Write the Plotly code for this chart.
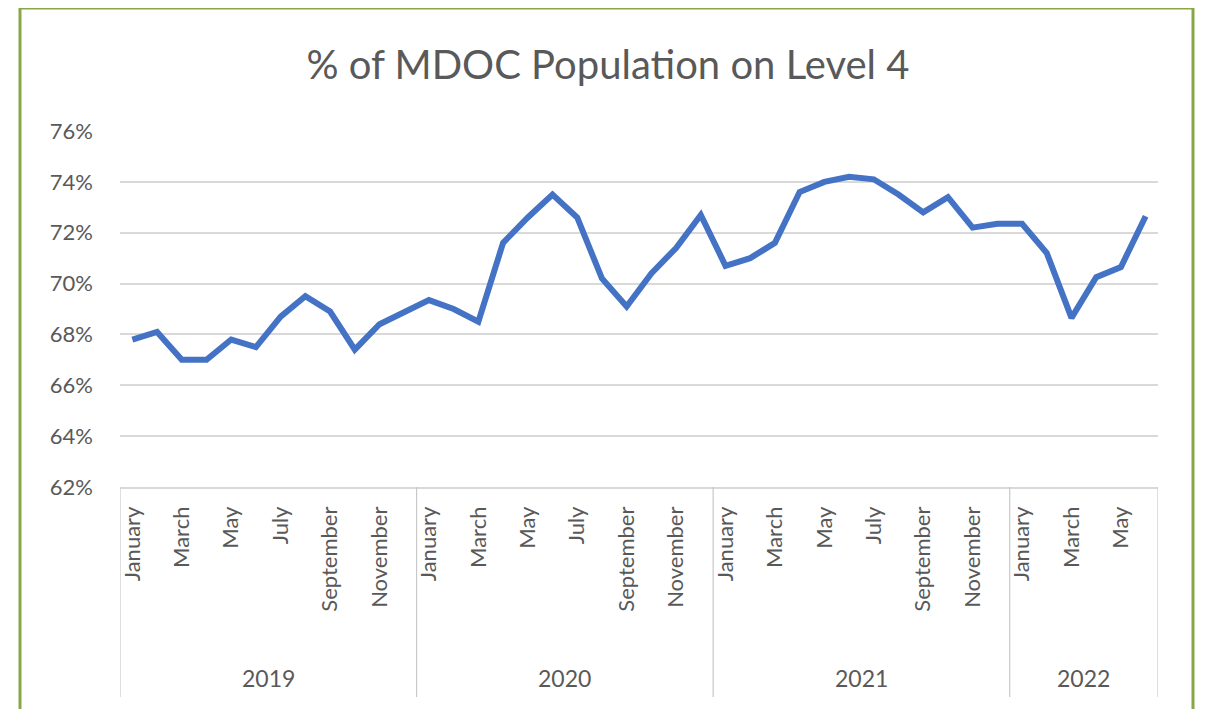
import plotly.graph_objects as go

years = ["2019", "2020", "2021", "2022"]
month_names = ["January", "February", "March", "April", "May", "June",
               "July", "August", "September", "October", "November", "December"]
months_per_year = [12, 12, 12, 6]

values = [67.8, 68.1, 67.0, 67.0, 67.8, 67.5, 68.7, 69.5, 68.9, 67.4, 68.4, 68.9,
          69.35, 69.0, 68.5, 71.6, 72.6, 73.5, 72.6, 70.2, 69.1, 70.4, 71.4, 72.7,
          70.7, 71.0, 71.6, 73.6, 74.0, 74.2, 74.1, 73.5, 72.8, 73.4, 72.2, 72.35,
          72.35, 71.2, 68.65, 70.25, 70.65, 72.65]

y_ticks = [62, 64, 66, 68, 70, 72, 74, 76]

labels = []
for yr, n in zip(years, months_per_year):
    for m in month_names[:n]:
        labels.append(m)
x_idx = list(range(len(values)))

FONT = "Lato, Open Sans, sans-serif"
GRAY = "#595959"
GRID = "#d9d9d9"

fig = go.Figure()
fig.add_trace(go.Scatter(x=x_idx, y=values, mode="lines",
                         line=dict(color="#4472C4", width=6), hoverinfo="skip"))

tickvals = [i for i in x_idx if i % 2 == 0]
ticktext = [labels[i] for i in tickvals]

shapes = []
annotations = []
start = 0
for yr, n in zip(years, months_per_year):
    shapes.append(dict(type="line", xref="x", yref="paper", x0=start - 0.5, x1=start - 0.5,
                       y0=0, y1=-0.59, line=dict(color="#c8c8c8", width=1.2)))
    annotations.append(dict(x=start + (n - 1) / 2, y=-0.537, xref="x", yref="paper",
                            text=yr, showarrow=False, xanchor="center", yanchor="middle",
                            font=dict(family=FONT, size=23, color=GRAY)))
    start += n
shapes.append(dict(type="line", xref="x", yref="paper", x0=start - 0.5, x1=start - 0.5,
                   y0=0, y1=-0.59, line=dict(color="#c8c8c8", width=1.2)))
# chart border
shapes.append(dict(type="rect", xref="paper", yref="paper",
                   x0=(20 - 120) / 1038, x1=(1193 - 120) / 1038,
                   y0=-1.2, y1=(487 - 8) / 356,
                   line=dict(color="#8aa64a", width=3), fillcolor="rgba(0,0,0,0)"))

fig.update_layout(
    width=1198, height=701,
    margin=dict(l=112, r=48, t=123, b=222),
    paper_bgcolor="white", plot_bgcolor="white",
    showlegend=False,
    title=dict(text="% of MDOC Population on Level 4", x=(608 - 8) / 1198, xanchor="center",
               y=1 - 57 / 701, yanchor="middle", yref="container",
               font=dict(family=FONT, size=40, color=GRAY)),
    xaxis=dict(range=[-0.5, len(values) - 0.5], tickvals=tickvals, ticktext=ticktext,
               tickangle=-90, showgrid=False, zeroline=False, showline=True,
               linecolor=GRID, linewidth=1.5, ticks="", ticklabelstandoff=9,
               tickfont=dict(family=FONT, size=22, color=GRAY)),
    yaxis=dict(range=[62, 76], tickvals=y_ticks, ticktext=[f"{v}%" for v in y_ticks],
               showgrid=True, gridcolor=GRID, gridwidth=1.5, zeroline=False,
               showline=False, ticks="", ticklabelstandoff=26,
               tickfont=dict(family=FONT, size=22, color=GRAY)),
    shapes=shapes, annotations=annotations,
)

fig.write_html("out.html")
